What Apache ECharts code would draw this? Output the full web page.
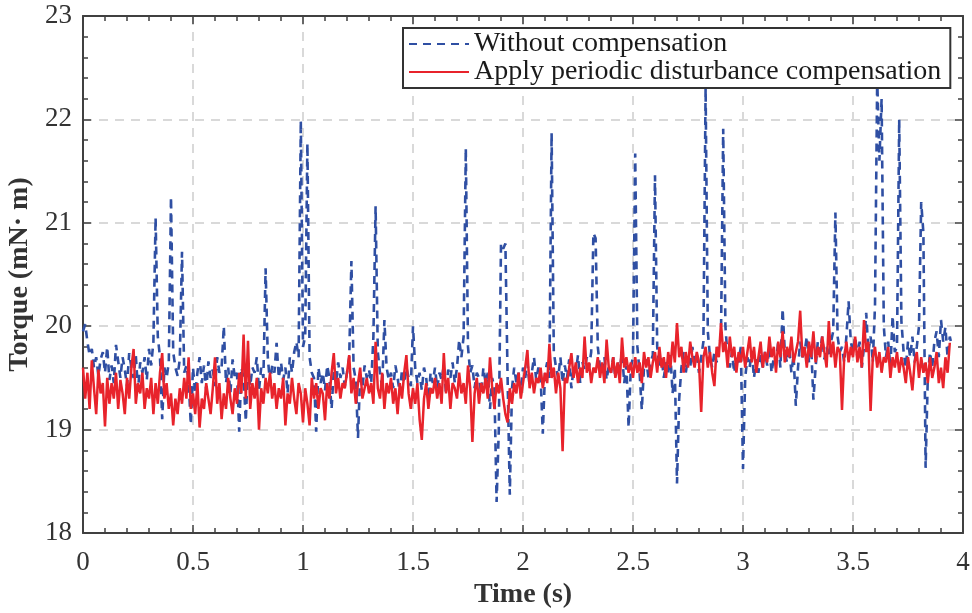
<!DOCTYPE html>
<html>
<head>
<meta charset="utf-8">
<script src="https://cdn.jsdelivr.net/npm/echarts@6/dist/echarts.min.js"></script>
<style>
  html, body { margin: 0; padding: 0; background: #fff; }
  #chart { width: 972px; height: 613px; }
</style>
</head>
<body>
<div id="chart"></div>
<script>
// sample step of the recorded torque (s)
const sampleStep = 0.01;

// torque without compensation (mN·m), one value per 10 ms from t = 0
const withoutComp = [
  19.95, 20.02, 19.85, 19.72, 19.78, 19.6, 19.7, 19.52, 19.68, 19.75,
  19.55, 19.8, 19.48, 19.62, 19.45, 19.82, 19.66, 19.5, 19.7, 19.58,
  19.42, 19.74, 19.6, 19.5, 19.72, 19.38, 19.65, 19.55, 19.7, 19.48,
  19.78, 19.62, 19.85, 21.05, 19.9, 19.7, 19.1, 19.6, 19.5, 19.65,
  21.25, 19.75, 19.6, 19.52, 19.68, 20.72, 19.55, 19.62, 19.48, 19.05,
  19.6, 19.35, 19.55, 19.7, 19.45, 19.62, 19.38, 19.66, 19.5, 19.58,
  19.42, 19.7, 19.55, 19.6, 20.0, 19.45, 19.6, 19.35, 19.68, 19.5,
  19.55, 18.98, 19.6, 19.5, 19.08, 19.65, 19.42, 19.6, 19.55, 19.7,
  19.38, 19.6, 19.5, 20.56, 19.7, 19.45, 19.62, 19.55, 19.84, 19.5,
  19.65, 19.48, 19.6, 19.35, 19.7, 19.55, 19.75, 19.85, 19.7, 21.99,
  19.8, 19.9, 21.77, 19.7, 19.55, 19.5, 18.98, 19.6, 19.45, 19.55,
  19.38, 19.62, 19.5, 19.2, 19.58, 19.45, 19.65, 19.5, 19.6, 19.42,
  19.55, 19.7, 20.63, 19.6, 19.48, 18.92, 19.55, 19.4, 19.62, 19.5,
  19.58, 19.45, 19.9, 21.16, 19.75, 19.55, 19.4, 20.06, 19.6, 19.48,
  19.55, 19.4, 19.62, 19.5, 19.35, 19.58, 19.45, 19.6, 19.5, 19.42,
  20.0, 19.6, 19.45, 19.55, 19.38, 19.6, 19.5, 19.28, 19.55, 19.45,
  19.6, 19.4, 19.55, 19.48, 19.62, 19.35, 19.58, 19.5, 19.65, 19.45,
  19.6, 19.87, 19.7, 19.9, 21.72, 19.8, 19.55, 19.62, 19.4, 19.55,
  19.5, 19.35, 19.6, 19.45, 19.55, 19.2, 19.5, 19.4, 18.3, 19.0,
  20.8, 20.75, 20.8, 19.5, 18.37, 19.4, 19.6, 19.45, 19.55, 19.38,
  19.6, 19.5, 19.65, 19.42, 19.55, 19.7, 19.48, 19.6, 19.52, 18.96,
  19.55, 19.65, 19.5, 21.87, 19.75, 19.6, 19.5, 19.7, 19.45, 19.62,
  19.5, 19.68, 19.4, 19.6, 19.55, 19.72, 19.45, 19.65, 19.58, 19.7,
  19.6, 19.75, 20.9, 20.85, 19.8, 19.6, 19.55, 19.7, 19.48, 19.62,
  19.55, 19.7, 19.5, 19.65, 19.58, 19.75, 19.45, 19.62, 19.02, 19.6,
  19.7, 21.67, 19.8, 19.55, 19.19, 19.6, 19.68, 19.5, 19.65, 19.72,
  21.46, 19.8, 19.6, 19.7, 19.5, 19.65, 19.55, 19.72, 19.35, 19.6,
  18.48, 19.3, 19.6, 19.75, 19.55, 19.7, 19.6, 19.8, 19.65, 19.72,
  19.55, 19.7, 19.85, 22.3, 19.95, 19.7, 19.6, 19.75, 19.65, 19.8,
  19.9, 21.91, 20.0, 19.7, 19.6, 19.75, 19.55, 19.7, 19.65, 19.8,
  18.62, 19.5, 19.7, 19.6, 19.75, 19.5, 19.68, 19.55, 19.72, 19.6,
  19.75, 19.62, 19.8, 19.55, 19.7, 19.65, 19.85, 19.6, 20.17, 19.75,
  19.65, 19.8, 19.55, 19.72, 19.23, 19.6, 19.85, 19.7, 19.75, 19.9,
  19.65, 19.8, 19.29, 19.6, 19.85, 19.75, 19.9, 19.68, 19.8, 19.7,
  19.85, 19.95, 21.1, 19.9, 19.75, 19.8, 19.65, 19.9, 20.24, 19.85,
  19.75, 19.9, 19.7, 19.85, 19.6, 19.8, 20.13, 19.75, 19.9, 19.65,
  20.2, 22.4, 21.6, 22.2, 20.0, 19.7, 19.85, 19.6, 20.1, 19.75,
  19.8, 22.0, 20.05, 19.75, 19.6, 19.85, 19.7, 19.9, 19.65, 19.8,
  20.0, 21.2, 20.9, 18.63, 19.5, 19.75, 19.6, 19.85, 19.95, 19.7,
  20.06, 19.85, 19.99, 19.7, 19.9, 19.8
];

// torque with periodic disturbance compensation (mN·m)
const withComp = [
  19.6, 19.3, 19.55, 19.2, 19.67, 19.4, 19.15, 19.58, 19.35, 19.45,
  19.03, 19.5, 19.25, 19.45, 19.3, 19.55, 19.2, 19.48, 19.35, 19.15,
  19.5, 19.3, 19.6, 19.78, 19.25, 19.45, 19.35, 19.55, 19.2, 19.4,
  19.3, 19.5, 19.15, 19.45, 19.25, 19.55, 19.74, 19.3, 19.45, 19.2,
  19.35, 19.04, 19.3, 19.15, 19.4, 19.25, 19.5, 19.3, 19.7, 19.2,
  19.35, 19.15, 19.45, 19.02, 19.3, 19.2, 19.45, 19.3, 19.15, 19.4,
  19.7, 19.25, 19.45, 19.1, 19.35, 19.2, 19.5, 19.3, 19.15, 19.4,
  19.25, 19.55, 19.35, 19.92, 19.3, 19.86, 19.2, 19.45, 19.3, 19.5,
  19.0, 19.4, 19.25, 19.5, 19.35, 19.55, 19.3, 19.45, 19.2, 19.4,
  19.3, 19.5, 19.04, 19.35, 19.25, 19.5, 19.3, 19.15, 19.45, 19.35,
  19.07, 19.4, 19.25, 19.04, 19.5, 19.3, 19.45, 19.2, 19.4, 19.35,
  19.09, 19.45, 19.3, 19.55, 19.74, 19.35, 19.5, 19.3, 19.45, 19.4,
  19.55, 19.72, 19.35, 19.5, 19.25, 19.45, 19.6, 19.3, 19.4, 19.5,
  19.35, 19.45, 19.25, 19.85, 19.4, 19.3, 19.55, 19.2, 19.45, 19.35,
  19.5, 19.25, 19.4, 19.15, 19.45, 19.3, 19.55, 19.72, 19.35, 19.2,
  19.4, 19.25, 19.45, 19.1, 18.9, 19.3, 19.45, 19.2, 19.4, 19.35,
  19.5, 19.3, 19.45, 19.25, 19.74, 19.35, 19.5, 19.2, 19.45, 19.4,
  19.3, 19.55, 19.35, 19.45, 19.25, 19.62, 19.4, 18.88, 19.35, 19.5,
  19.25, 19.45, 19.35, 19.5, 19.3, 19.7, 19.4, 19.2, 19.45, 19.35,
  19.5, 19.3, 19.15, 19.07, 19.4, 19.25, 19.45, 19.35, 19.55, 19.3,
  19.45, 19.6, 19.77, 19.4, 19.55, 19.35, 19.5, 19.45, 19.6, 19.4,
  19.55, 19.45, 19.83, 19.5, 19.6, 19.35, 19.55, 19.4, 18.79, 19.5,
  19.45, 19.6, 19.74, 19.5, 19.65, 19.45, 19.6, 19.5, 19.9, 19.55,
  19.65, 19.45, 19.6, 19.55, 19.7, 19.5, 19.65, 19.45, 19.87, 19.6,
  19.55, 19.7, 19.5, 19.65, 19.45, 19.89, 19.6, 19.7, 19.55, 19.65,
  19.5, 19.7, 19.55, 19.65, 19.45, 19.75, 19.6, 19.7, 19.5, 19.65,
  19.75, 19.55, 19.8, 19.6, 19.7, 19.5, 19.75, 19.6, 19.85, 19.65,
  20.03, 19.7, 19.8, 19.55, 19.75, 19.6, 19.85, 19.7, 19.6, 19.75,
  19.65, 19.17, 19.7, 19.8, 19.6, 19.75, 19.55, 19.42, 19.8, 19.7,
  20.03, 19.75, 19.85, 19.6, 19.9, 19.7, 19.8, 19.55, 19.75, 19.65,
  19.8, 19.6, 19.75, 19.9, 19.65, 19.8, 19.55, 19.7, 19.85, 19.6,
  19.75, 19.65, 19.9, 19.7, 19.8, 19.55, 19.85, 19.7, 19.95, 19.65,
  19.8, 19.7, 19.9, 19.65, 19.75, 19.85, 20.15, 19.7, 19.8, 19.6,
  19.85, 19.7, 19.95, 19.65, 19.8, 19.7, 19.9, 19.75, 19.6, 20.05,
  19.7, 19.85, 19.6, 19.8, 19.75, 19.19, 19.7, 19.85, 19.65, 19.8,
  19.7, 19.9, 19.65, 19.8, 19.6, 20.06, 19.75, 19.85, 19.18, 19.7,
  19.8, 19.6, 19.75, 19.55, 19.7, 19.65, 19.8, 19.5, 19.7, 19.6,
  19.75, 19.55, 19.7, 19.6, 19.45, 19.7, 19.55, 19.38, 19.65, 19.75,
  19.5, 19.7, 19.55, 19.65, 19.45, 19.7, 19.5, 19.6, 19.75, 19.45,
  19.6, 19.4, 19.7, 19.55, 19.84
];

const seriesNames = ['Without compensation', 'Apply periodic disturbance compensation'];

function toPoints(values) {
  return values.map((v, i) => [+(i * sampleStep).toFixed(2), v]);
}

const serif = 'Liberation Serif, Times New Roman, serif';
const axisColor = '#404040';

const frameAxis = {
  min: 0, max: 4, interval: 0.5,
  axisLine: { show: true, onZero: false, lineStyle: { color: axisColor, width: 2 } },
  axisTick: { show: true, inside: true, length: 8, lineStyle: { color: axisColor, width: 1.5 } },
  minorTick: { show: true, splitNumber: 5, length: 5, lineStyle: { color: axisColor, width: 1.5 } },
  splitLine: { show: false }
};

const gridLine = { show: true, lineStyle: { color: '#d9d9d9', width: 2, type: [9, 7] } };
const tickLabel = { fontFamily: serif, fontSize: 27, color: '#333' };
const axisName = { fontFamily: serif, fontSize: 28, fontWeight: 'bold', color: '#333' };

const chart = echarts.init(document.getElementById('chart'));

chart.setOption({
  animation: false,
  backgroundColor: '#fff',
  grid: { left: 83, right: 9, top: 16, bottom: 80, containLabel: false, outerBoundsMode: 'none' },
  legend: {
    data: seriesNames,
    orient: 'vertical',
    left: 403,
    top: 28,
    itemWidth: 60,
    itemHeight: 14,
    itemGap: 0,
    padding: [2, 9, 2, 5],
    backgroundColor: '#fff',
    borderColor: '#333',
    borderWidth: 2,
    itemStyle: { opacity: 0 },
    textStyle: { fontFamily: serif, fontSize: 28, lineHeight: 28, color: '#1a1a1a' }
  },
  xAxis: [
    Object.assign({}, frameAxis, {
      type: 'value',
      position: 'bottom',
      name: 'Time (s)',
      nameLocation: 'middle',
      nameGap: 47,
      nameTextStyle: axisName,
      axisLabel: Object.assign({ margin: 16 }, tickLabel),
      splitLine: gridLine
    }),
    Object.assign({}, frameAxis, {
      type: 'value',
      position: 'top',
      axisLabel: { show: false }
    })
  ],
  yAxis: [
    Object.assign({}, frameAxis, {
      type: 'value',
      min: 18, max: 23, interval: 1,
      position: 'left',
      name: 'Torque (mN· m)',
      nameLocation: 'middle',
      nameGap: 39,
      nameTextStyle: axisName,
      axisLabel: Object.assign({ margin: 11 }, tickLabel),
      splitLine: gridLine
    }),
    Object.assign({}, frameAxis, {
      type: 'value',
      min: 18, max: 23, interval: 1,
      position: 'right',
      axisLabel: { show: false }
    })
  ],
  series: [
    {
      name: seriesNames[0],
      type: 'line',
      data: toPoints(withoutComp),
      symbol: 'none',
      lineStyle: { color: '#2f4fa3', width: 2.6, type: [8, 6] },
      itemStyle: { color: '#2f4fa3' },
      z: 2
    },
    {
      name: seriesNames[1],
      type: 'line',
      data: toPoints(withComp),
      symbol: 'none',
      lineStyle: { color: '#e8232b', width: 2.5 },
      itemStyle: { color: '#e8232b' },
      z: 3
    }
  ]
});
</script>
</body>
</html>
